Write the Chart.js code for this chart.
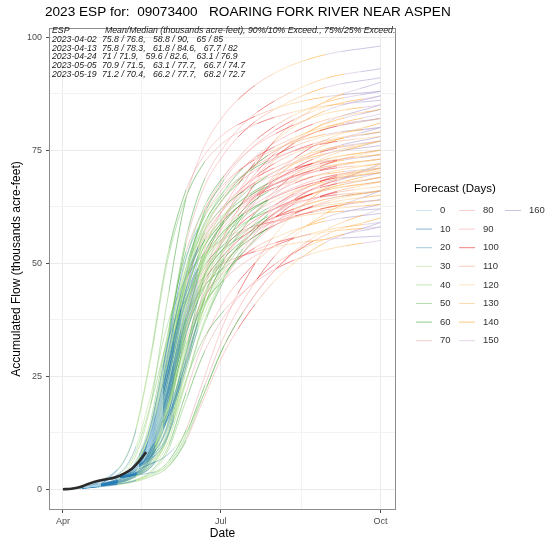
<!DOCTYPE html>
<html>
<head>
<meta charset="utf-8">
<script src="https://cdn.jsdelivr.net/npm/chart.js@4.4.0/dist/chart.umd.min.js"></script>
<style>
  html, body { margin: 0; padding: 0; background: #fff; }
  #wrap { width: 556px; height: 545px; }
</style>
</head>
<body>
<div id="wrap"><canvas id="espChart" width="556" height="545"></canvas></div>
<script>
// x values are days counted from Apr 1 (Apr = 0, Jul = 91, Oct = 183)
const monthTicks = [0, 45.5, 91, 137.5, 183];
const monthLabels = ['Apr', '', 'Jul', '', 'Oct'];
const flowTicks = [0, 12.5, 25, 37.5, 50, 62.5, 75, 87.5, 100];

// forecast lead (days) legend
const leadDays = [0, 10, 20, 30, 40, 50, 60, 70, 80, 90, 100, 110, 120, 130, 140, 150, 160];
const leadColors = ['#a6cee3', '#1f78b4', '#5a9cb8', '#b2df8a', '#9ad27e', '#7cc46a', '#33a02c', '#e6a3a3',
  '#f4a6a4', '#fb9a99', '#e31a1c', '#f2a486', '#fdcf8f', '#fdbf6f', '#ff9a1a', '#cab2d6', '#a08cc8'];

// observed accumulated flow
const obsDays = [0, 5, 10, 15, 20, 25, 30, 35, 40, 44, 48];
const obsFlow = [0, 0.1, 0.5, 1.2, 1.8, 2.2, 2.6, 3.4, 4.6, 6.2, 8.2];

// ESP runs
const espStarts = [1, 12, 23, 34, 48];
const espDates = ['2023-04-02', '2023-04-13', '2023-04-24', '2023-05-05', '2023-05-19'];
const espStats = [
  '75.8 / 76.8,   58.8 / 90,   65 / 85',
  '75.8 / 78.3,   61.8 / 84.6,   67.7 / 82',
  '71 / 71.9,   59.6 / 82.6,   63.1 / 76.9',
  '70.9 / 71.5,   63.1 / 77.7,   66.7 / 74.7',
  '71.2 / 70.4,   66.2 / 77.7,   68.2 / 72.7'
];

// 2023-04-02 traces
const f1Days = [1, 20, 40, 50, 60, 70, 80, 92, 107, 125, 150, 183];
const f1Traces = [
  [0, 1.0, 5.9, 17.6, 41.2, 62.7, 74.5, 82.3, 88.2, 92.6, 96, 98],
  [0, 0.9, 4.6, 12.7, 31.9, 52.8, 65.5, 73.7, 80.1, 84.6, 88.7, 91],
  [0, 1.5, 10.6, 28.2, 51, 65.1, 73, 78.3, 81.8, 84.5, 86.7, 88],
  [0, 0.6, 2.6, 5.1, 11.9, 27.2, 42.5, 55.3, 65.5, 74, 80.8, 85],
  [0, 0.8, 3.3, 8.2, 23, 42.6, 55.8, 64, 70.5, 75.4, 79.5, 82],
  [0, 0.7, 2.7, 6.2, 15.6, 32.8, 46, 55.4, 63.2, 69.8, 74.9, 78],
  [0, 0.9, 3.8, 10.6, 26.6, 44.1, 54.7, 61.6, 66.9, 70.7, 74.1, 76],
  [0, 0.5, 1.8, 3.2, 5.8, 12.2, 23, 36, 47.5, 57.6, 66.2, 72],
  [0, 0.8, 2.6, 6.6, 18.5, 34.3, 44.9, 51.5, 56.8, 60.7, 64, 66],
  [0, 0.6, 1.9, 3.8, 8.8, 20.2, 31.5, 41, 48.5, 54.8, 59.9, 63],
  [0, 0.5, 1.5, 2.7, 4.7, 10, 18.9, 29.5, 38.9, 47.2, 54.3, 59],
  [0, 1.3, 6.7, 17.9, 32.5, 41.4, 46.5, 49.8, 52.1, 53.8, 55.2, 56],
  [0, 0.7, 2.8, 7, 19.6, 36.4, 47.6, 54.6, 60.2, 64.4, 67.9, 70],
  [0, 1.0, 4.8, 14.4, 33.6, 51.2, 60.8, 67.2, 72, 75.6, 78.4, 80],
  [0, 0.7, 3, 7, 17.4, 36.5, 51.3, 61.8, 70.5, 77.9, 83.5, 87],
  [0, 0.6, 2.4, 6.1, 17.1, 31.7, 41.5, 47.6, 52.5, 56.1, 59.2, 61]
];

// 2023-04-13 traces
const f2Days = [12, 25, 40, 50, 60, 70, 80, 92, 107, 125, 150, 183];
const f2Traces = [
  [0.4, 1.4, 4.7, 13, 32.6, 53.9, 67, 75.3, 81.8, 86.5, 90.7, 93],
  [0.4, 1.2, 3.5, 8.8, 24.6, 45.8, 59.8, 68.6, 75.7, 81, 85.4, 88],
  [0.4, 2.0, 10.3, 27.5, 49.9, 63.6, 71.4, 76.5, 80, 82.6, 84.7, 86],
  [0.4, 1.1, 2.9, 6.7, 16.8, 35.3, 49.6, 59.6, 68, 75.2, 80.6, 84],
  [0.4, 1.3, 4.1, 11.5, 28.7, 47.6, 59, 66.4, 72.2, 76.3, 80, 82],
  [0.4, 1.0, 2.4, 4.8, 11.2, 25.6, 40, 52, 61.6, 69.6, 76, 80],
  [0.4, 1.3, 3.9, 10.8, 27, 44.7, 55.4, 62.4, 67.8, 71.6, 75.1, 77],
  [0.4, 1.2, 3, 7.4, 20.7, 38.5, 50.3, 57.7, 63.6, 68.1, 71.8, 74],
  [0.4, 1.1, 2.4, 5.5, 13.8, 29, 40.7, 49, 55.9, 61.8, 66.2, 69],
  [0.4, 0.9, 1.7, 3, 5.3, 11.2, 21.1, 33, 43.6, 52.8, 60.7, 66],
  [0.4, 1.8, 7.4, 19.8, 36, 45.9, 51.5, 55.2, 57.7, 59.5, 61.1, 62],
  [0.4, 0.9, 1.7, 3.5, 8.1, 18.6, 29, 37.7, 44.7, 50.5, 55.1, 58],
  [0.4, 1.0, 2.7, 5.4, 12.6, 28.8, 45, 58.5, 69.3, 78.3, 85.5, 90],
  [0.4, 1.2, 3.2, 7.9, 22.1, 41.1, 53.7, 61.6, 67.9, 72.7, 76.6, 79],
  [0.4, 1.3, 4.3, 12.8, 29.8, 45.4, 54, 59.6, 63.9, 67.1, 69.6, 71],
  [0.4, 1.1, 2.6, 6.4, 17.9, 33.3, 43.5, 49.9, 55, 58.9, 62.1, 64]
];

// 2023-04-24 traces
const f3Days = [23, 32, 40, 50, 60, 70, 80, 92, 107, 125, 150, 183];
const f3Traces = [
  [2, 2.7, 3.5, 8.7, 24.4, 45.2, 59.2, 67.9, 74.8, 80, 84.4, 87],
  [2, 2.6, 3.2, 6.6, 16.6, 34.9, 49, 58.9, 67.2, 74.3, 79.7, 83],
  [2, 2.9, 4, 11.2, 28, 46.4, 57.6, 64.8, 70.4, 74.4, 78, 80],
  [2, 2.5, 3.1, 5, 10.8, 24.6, 38.5, 50, 59.3, 67, 73.2, 77],
  [2, 2.7, 3.3, 7.5, 21, 39, 51, 58.5, 64.5, 69, 72.8, 75],
  [2, 2.8, 3.7, 10.2, 25.6, 42.3, 52.6, 59.1, 64.2, 67.9, 71.2, 73],
  [2, 2.6, 3.2, 5.7, 14.2, 29.8, 41.9, 50.4, 57.5, 63.5, 68.2, 71],
  [2, 2.6, 3.2, 6.8, 19, 35.4, 46.2, 53, 58.5, 62.6, 66, 68],
  [2, 2.9, 3.9, 11.5, 26.9, 41, 48.6, 53.8, 57.6, 60.5, 62.7, 64],
  [2, 2.5, 3, 3.6, 5, 10.5, 19.8, 31, 40.9, 49.6, 57, 62],
  [2, 2.6, 3.1, 5.9, 16.5, 30.7, 40.1, 46, 50.7, 54.3, 57.2, 59],
  [2, 2.5, 3, 4.6, 11, 23.1, 32.5, 39.1, 44.6, 49.2, 52.8, 55],
  [2, 2.8, 4.3, 11.9, 29.8, 49.3, 61.2, 68.9, 74.8, 79.1, 82.9, 85],
  [2, 2.5, 3, 4.6, 9.8, 22.4, 35, 45.5, 53.9, 60.9, 66.5, 70],
  [2, 2.7, 3.2, 6.6, 18.5, 34.3, 44.9, 51.5, 56.8, 60.7, 64, 66],
  [2, 2.8, 3.5, 10.4, 24.4, 37.1, 44.1, 48.7, 52.2, 54.8, 56.8, 58]
];

// 2023-05-05 traces
const f4Days = [34, 40, 50, 60, 70, 80, 92, 107, 125, 150, 183];
const f4Traces = [
  [3.2, 4.6, 9.2, 23.5, 43.7, 57.1, 65.5, 72.2, 77.3, 81.5, 84],
  [3.2, 4.8, 11.1, 27.7, 45.8, 56.9, 64, 69.5, 73.5, 77, 79],
  [3.2, 4.3, 7.6, 15.4, 32.3, 45.4, 54.7, 62.4, 68.9, 73.9, 77],
  [3.2, 4.5, 8.6, 21, 39, 51, 58.5, 64.5, 69, 72.8, 75],
  [3.2, 5, 13.3, 31.1, 47.4, 56.2, 62.2, 66.6, 69.9, 72.5, 74],
  [3.2, 4.5, 8.3, 20.2, 37.4, 49, 56.2, 61.9, 66.2, 69.8, 72],
  [3.2, 4.2, 7, 11.5, 22.7, 35.5, 46.2, 54.7, 61.8, 67.5, 71],
  [3.2, 4.7, 9.8, 24.5, 40.6, 50.4, 56.7, 61.6, 65.1, 68.3, 70],
  [3.2, 4.4, 8, 19, 35.4, 46.2, 53, 58.5, 62.6, 66, 68],
  [3.2, 4.2, 7.3, 13.2, 27.7, 38.9, 46.9, 53.5, 59.1, 63.4, 66],
  [3.2, 4.8, 11.3, 26.5, 40.3, 47.9, 52.9, 56.7, 59.5, 61.7, 63],
  [3.2, 4.0, 5.5, 7.5, 12, 20, 31, 41, 49.5, 56, 60],
  [3.2, 4.2, 6.5, 11.3, 25.9, 40.5, 52.7, 62.4, 70.5, 77, 81],
  [3.2, 4.7, 10.2, 25.6, 42.3, 52.6, 59.1, 64.2, 67.9, 71.2, 73],
  [3.2, 4.3, 6.9, 13.8, 29, 40.7, 49, 55.9, 61.8, 66.2, 69],
  [3.2, 4.4, 7.8, 18.2, 33.8, 44.2, 50.7, 55.9, 59.8, 63.1, 65]
];

// 2023-05-19 traces
const f5Days = [48, 55, 60, 65, 70, 80, 92, 107, 125, 150, 183];
const f5Traces = [
  [8.2, 17.2, 24.6, 33.6, 42.6, 55.8, 64, 70.5, 75.4, 79.5, 82],
  [8.2, 21.1, 31.2, 41.3, 49.9, 59.3, 65.5, 70.2, 73.7, 76.4, 78],
  [8.2, 12.8, 16.5, 21.8, 28.5, 41.3, 51, 59.3, 66, 71.6, 75],
  [8.2, 15.3, 21.9, 29.9, 38, 49.6, 56.9, 62.8, 67.2, 70.8, 73],
  [8.2, 19.4, 28.8, 38.2, 46.1, 54.7, 60.5, 64.8, 68, 70.6, 72],
  [8.2, 14.9, 21.3, 29.1, 36.9, 48.3, 55.4, 61.1, 65.3, 68.9, 71],
  [8.2, 12, 15.5, 20.4, 26.8, 38.8, 47.9, 55.7, 62, 67.3, 70.5],
  [8.2, 16.8, 24.5, 32.9, 40.6, 50.4, 56.7, 61.6, 65.1, 68.3, 70],
  [8.2, 14.5, 20.7, 28.3, 35.9, 46.9, 53.8, 59.3, 63.5, 66.9, 69],
  [8.2, 11.6, 15, 19.7, 25.8, 37.4, 46.2, 53.7, 59.8, 64.9, 68],
  [8.2, 17.8, 26.4, 35, 42.2, 50.2, 55.4, 59.4, 62.4, 64.7, 66],
  [8.2, 13.4, 19.2, 26.2, 33.3, 43.5, 49.9, 55, 58.9, 62.1, 64],
  [8.2, 16.2, 23.1, 31.6, 40, 52.4, 60.1, 66.2, 70.8, 74.7, 77],
  [8.2, 17.8, 25.9, 34.8, 42.9, 53.3, 59.9, 65.1, 68.8, 72.2, 74],
  [8.2, 12.2, 15.7, 20.7, 27.2, 39.3, 48.6, 56.5, 62.9, 68.3, 71.5],
  [8.2, 14.1, 20.1, 27.5, 34.8, 45.6, 52.3, 57.6, 61.6, 65, 67]
];

const FONT = '"Liberation Sans", Arial, Helvetica, sans-serif';
const LINE_ALPHA = 0.5;

function fade(hex, a) {
  const n = parseInt(hex.slice(1), 16);
  return `rgba(${n >> 16},${(n >> 8) & 255},${n & 255},${a})`;
}

// colour each trace by forecast lead, 10-day bands starting at its run date
function leadGradient(context, start) {
  const chart = context.chart;
  const xs = chart.scales.x;
  if (!chart.chartArea || !xs) return fade(leadColors[0], LINE_ALPHA);
  const x0 = xs.getPixelForValue(start);
  const x1 = xs.getPixelForValue(start + 170);
  const g = chart.ctx.createLinearGradient(x0, 0, x1, 0);
  const n = leadColors.length;
  leadColors.forEach((c, k) => {
    g.addColorStop(k / n, fade(c, LINE_ALPHA));
    g.addColorStop((k + 1) / n - 0.0005, fade(c, LINE_ALPHA));
  });
  return g;
}

const runs = [
  { start: espStarts[0], days: f1Days, traces: f1Traces },
  { start: espStarts[1], days: f2Days, traces: f2Traces },
  { start: espStarts[2], days: f3Days, traces: f3Traces },
  { start: espStarts[3], days: f4Days, traces: f4Traces },
  { start: espStarts[4], days: f5Days, traces: f5Traces }
];

const datasets = [{
  data: obsDays.map((d, i) => ({ x: d, y: obsFlow[i] })),
  borderColor: '#2b2b2b',
  borderWidth: 2.6,
  order: 0
}];
// later runs sit on top of earlier ones
runs.forEach((run, r) => {
  run.traces.forEach(tr => {
    datasets.push({
      data: run.days.map((d, i) => ({ x: d, y: tr[i] })),
      borderColor: ctx => leadGradient(ctx, run.start),
      borderWidth: 1,
      order: runs.length - r
    });
  });
});

// fit a font size so text spans a given width
function fitFont(c, text, size, style, width) {
  c.font = `${style} ${size}px ${FONT}`;
  const w = c.measureText(text).width;
  return size * width / w;
}

const decorations = {
  id: 'decorations',
  afterDatasetsDraw(chart) {
    const c = chart.ctx;
    const a = chart.chartArea;
    c.save();
    // panel border
    c.strokeStyle = '#8c8c8c';
    c.lineWidth = 1;
    c.strokeRect(a.left + 0.5, a.top + 0.5, a.right - a.left - 1, a.bottom - a.top - 1);

    // run summary table
    c.fillStyle = '#1a1a1a';
    c.textBaseline = 'middle';
    c.textAlign = 'left';
    const head = 'Mean/Median (thousands acre-feet), 90%/10% Exceed., 75%/25% Exceed.';
    const hs = fitFont(c, head, 8.5, 'italic', 291);
    c.font = `italic ${hs}px ${FONT}`;
    c.fillText('ESP', 52, 30.5);
    c.fillText(head, 105, 30.5);
    espDates.forEach((d, i) => {
      const y = 39.3 + i * 8.8;
      c.fillText(d, 52, y);
      c.fillText(espStats[i], 102, y);
    });
    c.restore();
  },
  afterDraw(chart) {
    const c = chart.ctx;
    const a = chart.chartArea;
    c.save();
    c.fillStyle = '#000';
    c.textBaseline = 'middle';

    // title
    const title = '2023 ESP for:  09073400   ROARING FORK RIVER NEAR ASPEN';
    const ts = fitFont(c, title, 15, '', 406);
    c.font = `${ts}px ${FONT}`;
    c.textAlign = 'left';
    c.fillText(title, 45, 12);

    // axis titles
    c.font = `12px ${FONT}`;
    c.textAlign = 'center';
    c.fillText('Date', (a.left + a.right) / 2, 534);
    c.save();
    c.translate(17, (a.top + a.bottom) / 2);
    c.rotate(-Math.PI / 2);
    c.fillText('Accumulated Flow (thousands acre-feet)', 0, 0);
    c.restore();

    // legend
    c.textAlign = 'left';
    c.font = `11.5px ${FONT}`;
    c.fillText('Forecast (Days)', 414, 189);
    c.font = `9.5px ${FONT}`;
    const colX = [416, 459, 505];
    leadDays.forEach((d, k) => {
      const x = colX[Math.floor(k / 8)];
      const y = 210 + (k % 8) * 18.6;
      c.strokeStyle = fade(leadColors[k], 0.55);
      c.lineWidth = 1;
      c.beginPath();
      c.moveTo(x, y + 0.5);
      c.lineTo(x + 16, y + 0.5);
      c.stroke();
      c.fillStyle = '#333';
      c.fillText(String(d), x + 24, y + 0.5);
    });
    c.restore();
  }
};

const isMinorX = v => monthLabels[monthTicks.indexOf(v)] === '';
const isMinorY = v => v % 25 !== 0;

new Chart(document.getElementById('espChart').getContext('2d'), {
  type: 'line',
  data: { datasets: datasets },
  options: {
    responsive: false,
    animation: false,
    events: [],
    layout: { padding: { top: 28, right: 160, left: 0, bottom: 0 } },
    elements: {
      point: { radius: 0 },
      line: { cubicInterpolationMode: 'monotone', fill: false }
    },
    plugins: { legend: { display: false }, tooltip: { enabled: false } },
    scales: {
      x: {
        type: 'linear',
        min: -8,
        max: 192,
        afterBuildTicks: s => { s.ticks = monthTicks.map(v => ({ value: v })); },
        afterFit: s => { s.height = 35; },
        ticks: {
          autoSkip: false, maxRotation: 0, padding: 3,
          color: '#4d4d4d', font: { family: FONT, size: 9 },
          callback: (v, i) => monthLabels[i]
        },
        grid: {
          color: ctx => isMinorX(ctx.tick.value) ? '#f3f3f3' : '#ebebeb',
          tickColor: ctx => isMinorX(ctx.tick.value) ? 'rgba(0,0,0,0)' : '#4d4d4d',
          tickLength: 3
        },
        border: { display: false }
      },
      y: {
        type: 'linear',
        min: -4.6,
        max: 102,
        afterBuildTicks: s => { s.ticks = flowTicks.map(v => ({ value: v })); },
        afterFit: s => { s.width = 49; },
        ticks: {
          autoSkip: false, padding: 4,
          color: '#4d4d4d', font: { family: FONT, size: 9 },
          callback: v => isMinorY(v) ? '' : String(v)
        },
        grid: {
          color: ctx => isMinorY(ctx.tick.value) ? '#f3f3f3' : '#ebebeb',
          tickColor: ctx => isMinorY(ctx.tick.value) ? 'rgba(0,0,0,0)' : '#4d4d4d',
          tickLength: 3
        },
        border: { display: false }
      }
    }
  },
  plugins: [decorations]
});
</script>
</body>
</html>
